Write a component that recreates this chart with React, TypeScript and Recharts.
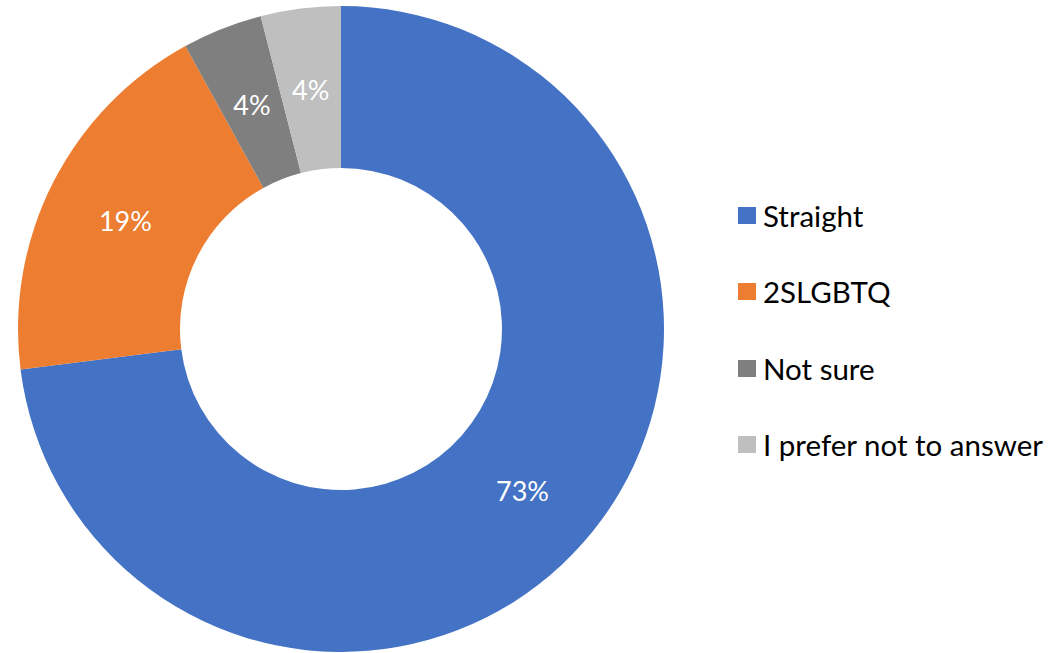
import { PieChart, Pie, Cell, Legend } from 'recharts';

const categories = ['Straight', '2SLGBTQ', 'Not sure', 'I prefer not to answer'];
const shares = [73, 19, 4, 4];
const colors = ['#4472C4', '#ED7D31', '#7F7F7F', '#BFBFBF'];

const data = categories.map((name, i) => ({ name, value: shares[i] }));

const FONT = 'Lato, "Open Sans", sans-serif';
const RADIAN = Math.PI / 180;

function renderLabel(props: any) {
  const { cx, cy, midAngle, innerRadius, outerRadius, value } = props;
  const r = (innerRadius + outerRadius) / 2;
  const x = cx + r * Math.cos(-midAngle * RADIAN);
  const y = cy + r * Math.sin(-midAngle * RADIAN) + 1;
  return (
    <text
      x={x}
      y={y}
      fill="#FFFFFF"
      textAnchor="middle"
      dominantBaseline="central"
      fontFamily={FONT}
      fontSize={27}
    >
      {`${value}%`}
    </text>
  );
}

function renderLegend() {
  return (
    <div style={{ fontFamily: FONT, fontSize: 29.5, color: '#000' }}>
      {data.map((d, i) => (
        <div
          key={d.name}
          style={{ display: 'flex', alignItems: 'center', height: 76.5 }}
        >
          <span
            style={{
              width: 18,
              height: 17,
              background: colors[i],
              marginRight: 7,
              display: 'inline-block',
              flexShrink: 0,
            }}
          />
          <span style={{ whiteSpace: 'nowrap' }}>{d.name}</span>
        </div>
      ))}
    </div>
  );
}

export default function App() {
  return (
    <div style={{ position: 'absolute', left: 0, top: 0, background: '#fff' }}>
      <PieChart width={1061} height={653} margin={{ top: 0, right: 0, bottom: 0, left: 0 }}>
        <Pie
          data={data}
          dataKey="value"
          nameKey="name"
          cx={341}
          cy={329}
          innerRadius={161}
          outerRadius={323}
          startAngle={90}
          endAngle={-270}
          stroke="none"
          labelLine={false}
          label={renderLabel}
          isAnimationActive={false}
        >
          {data.map((d, i) => (
            <Cell key={d.name} fill={colors[i]} />
          ))}
        </Pie>
        <Legend
          layout="vertical"
          content={renderLegend}
          wrapperStyle={{ position: 'absolute', left: 738, top: 177, width: 323 }}
        />
      </PieChart>
    </div>
  );
}
